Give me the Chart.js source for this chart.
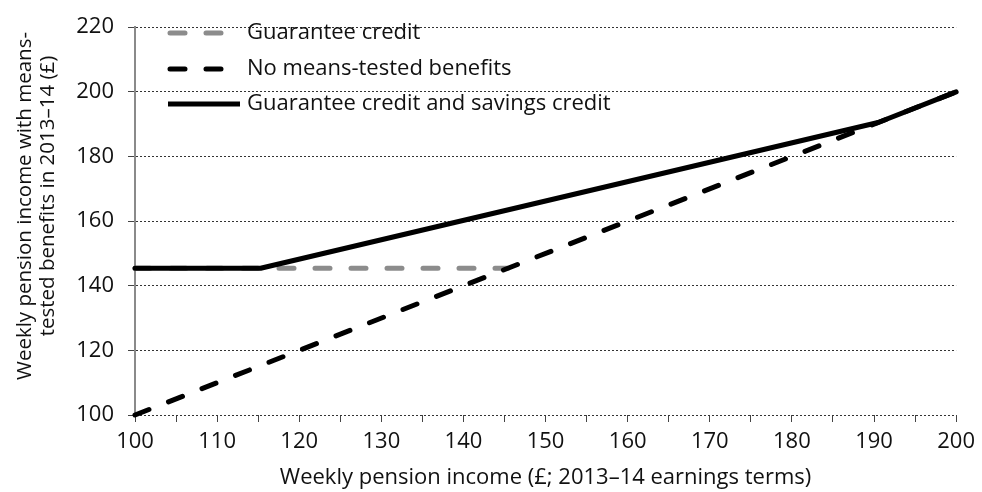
<!DOCTYPE html>
<html>
<head>
<meta charset="utf-8">
<script src="https://cdn.jsdelivr.net/npm/chart.js@4.4.0/dist/chart.umd.min.js"></script>
<style>
html,body{margin:0;padding:0;background:#fff;}
#wrap{width:982px;height:492px;position:relative;}
</style>
</head>
<body>
<div id="wrap"><canvas id="c" width="982" height="492"></canvas></div>
<script>
// ---- data ----
const seriesLabels = ['Guarantee credit', 'No means-tested benefits', 'Guarantee credit and savings credit'];
const guaranteeX = [100, 145.4];
const guaranteeY = [145.4, 145.4];
const noBenefitsX = [100, 200];
const noBenefitsY = [100, 200];
const savingsX = [100, 115.3, 190.5, 200];
const savingsY = [145.4, 145.4, 190.5, 200];
const xTickValues = [100, 110, 120, 130, 140, 150, 160, 170, 180, 190, 200];
const yTickValues = [100, 120, 140, 160, 180, 200, 220];
const xTitle = 'Weekly pension income (£; 2013–14 earnings terms)';
const yTitle = ['Weekly pension income with means-', 'tested benefits in 2013–14 (£)'];

const FONT = "'Open Sans', 'DejaVu Sans', sans-serif";
const toPts = (xs, ys) => xs.map((x, i) => ({x: x, y: ys[i]}));

const legendPlugin = {
  id: 'insideLegend',
  afterDraw(chart) {
    const ctx = chart.ctx;
    const rows = [33, 69, 104];
    ctx.save();
    chart.data.datasets.forEach((ds, i) => {
      const y = rows[i];
      const dashed = ds.borderDash && ds.borderDash.length;
      ctx.beginPath();
      ctx.strokeStyle = ds.borderColor;
      ctx.lineWidth = ds.borderWidth;
      ctx.lineCap = dashed ? 'round' : 'butt';
      ctx.setLineDash(ds.borderDash || []);
      ctx.moveTo(dashed ? 170 : 168, y);
      ctx.lineTo(dashed ? 222 : 240, y);
      ctx.stroke();
      ctx.setLineDash([]);
      ctx.fillStyle = '#111';
      ctx.font = '22px ' + FONT;
      ctx.textBaseline = 'middle';
      ctx.textAlign = 'left';
      ctx.fillText(ds.label, 247, y);
    });
    ctx.restore();
  }
};

const yTitlePlugin = {
  id: 'yTitle',
  afterDraw(chart) {
    const ctx = chart.ctx;
    const centers = [[25, 206], [48, 196]];
    ctx.save();
    ctx.fillStyle = '#111';
    ctx.font = '20.5px ' + FONT;
    ctx.textAlign = 'center';
    ctx.textBaseline = 'middle';
    yTitle.forEach((t, i) => {
      ctx.save();
      ctx.translate(centers[i][0], centers[i][1]);
      ctx.rotate(-Math.PI / 2);
      ctx.fillText(t, 0, 0);
      ctx.restore();
    });
    ctx.restore();
  }
};

new Chart(document.getElementById('c'), {
  type: 'line',
  data: {
    datasets: [
      {label: seriesLabels[0], data: toPts(guaranteeX, guaranteeY), borderColor: '#8c8c8c', borderWidth: 5,
       borderDash: [15, 21], borderCapStyle: 'round', order: 2},
      {label: seriesLabels[1], data: toPts(noBenefitsX, noBenefitsY), borderColor: '#000', borderWidth: 5,
       borderDash: [15, 21], borderCapStyle: 'round', order: 1},
      {label: seriesLabels[2], data: toPts(savingsX, savingsY), borderColor: '#000', borderWidth: 5,
       borderCapStyle: 'round', borderJoinStyle: 'round', order: 0}
    ]
  },
  options: {
    responsive: false,
    animation: false,
    devicePixelRatio: 1,
    elements: {point: {radius: 0, hoverRadius: 0}, line: {tension: 0}},
    datasets: {line: {clip: false, fill: false}},
    layout: {padding: {top: 22, right: 24, left: 0, bottom: 0}},
    plugins: {legend: {display: false}, tooltip: {enabled: false}},
    scales: {
      x: {
        type: 'linear', min: 100, max: 200,
        afterBuildTicks(s) { s.ticks = []; for (let v = 100; v <= 200; v += 5) s.ticks.push({value: v}); },
        afterFit(s) { s.height = 77; },
        ticks: {
          color: '#111', font: {family: FONT, size: 22}, padding: 7, maxRotation: 0, autoSkip: false,
          callback: (v) => xTickValues.includes(v) ? String(v) : ''
        },
        grid: {display: true, drawOnChartArea: false, drawTicks: true, tickLength: 7, tickColor: '#444', tickWidth: 1},
        border: {display: false},
        title: {display: true, text: xTitle, color: '#111', font: {family: FONT, size: 22, lineHeight: 1.1}, padding: {top: 0, bottom: 2}}
      },
      y: {
        type: 'linear', min: 100, max: 220,
        afterBuildTicks(s) { s.ticks = yTickValues.map(v => ({value: v})); },
        afterFit(s) { s.width = 135; },
        ticks: {color: '#111', font: {family: FONT, size: 22}, padding: 14},
        grid: {display: true, color: '#333', lineWidth: 1, drawTicks: true, tickLength: 7, tickColor: '#444', tickWidth: 1},
        border: {display: true, color: '#8a8a8a', width: 2, dash: [2, 2]},
        title: {display: false}
      }
    }
  },
  plugins: [legendPlugin, yTitlePlugin]
});
</script>
</body>
</html>
